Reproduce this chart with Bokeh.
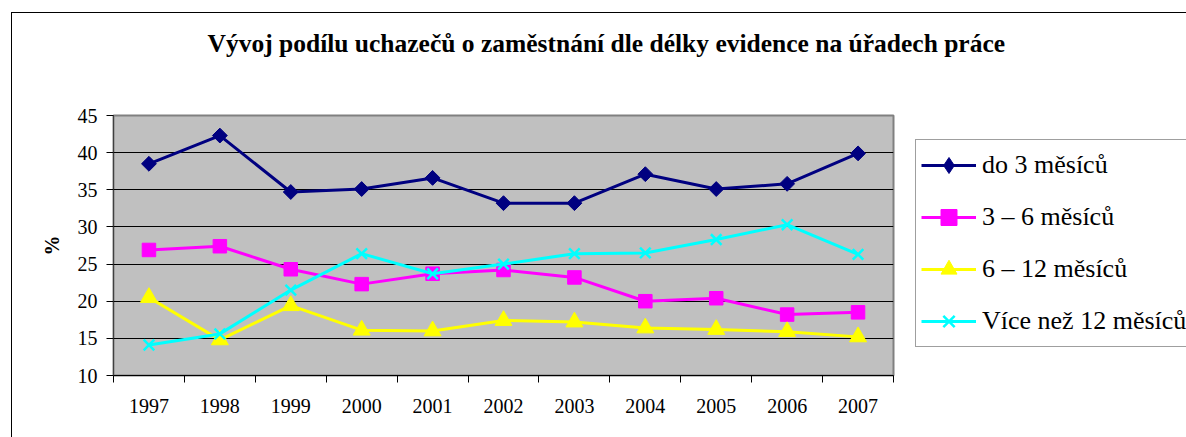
import math
from bokeh.plotting import figure
from bokeh.models import FixedTicker, Legend, LegendItem, Title, Range1d, ColumnDataSource
from bokeh.embed import file_html
from bokeh.resources import INLINE

title_text = "Vývoj podílu uchazečů o zaměstnání dle délky evidence na úřadech práce"
years = ["1997", "1998", "1999", "2000", "2001", "2002", "2003", "2004", "2005", "2006", "2007"]
series_names = ["do 3 měsíců", "3 – 6 měsíců", "6 – 12 měsíců", "Více než 12 měsíců"]
do_3 = [38.5, 42.3, 34.7, 35.1, 36.6, 33.2, 33.2, 37.1, 35.1, 35.8, 39.9]
m3_6 = [26.9, 27.4, 24.3, 22.3, 23.7, 24.2, 23.2, 20.0, 20.4, 18.2, 18.5]
m6_12 = [20.5, 14.8, 19.4, 16.1, 16.0, 17.4, 17.2, 16.4, 16.2, 15.9, 15.2]
over_12 = [14.1, 15.6, 21.5, 26.4, 23.7, 25.0, 26.4, 26.5, 28.3, 30.3, 26.3]
y_ticks = [10, 15, 20, 25, 30, 35, 40, 45]

FONT = "Liberation Serif"
n = len(years)
xs = [i + 0.5 for i in range(n)]

p = figure(width=1174, height=424, frame_width=780, frame_height=260,
           output_backend="svg", toolbar_location=None,
           x_range=Range1d(0, n), y_range=Range1d(y_ticks[0], y_ticks[-1]),
           min_border_left=101, min_border_right=0, min_border_top=102, min_border_bottom=62,
           background_fill_color="#C0C0C0", border_fill_color="white",
           outline_line_color="#808080", outline_line_width=2)
p.styles = {"border-left": "1px solid #000", "border-top": "1px solid #000",
            "margin-left": "11px", "margin-top": "12px"}

# blank spacer between the plot area and the title (added first = closest to the frame)
p.add_layout(Title(text=" ", text_font_size="10px", standoff=45), "above")
p.add_layout(Title(text=title_text, align="left", offset=94, standoff=0,
                   text_font=FONT, text_font_style="bold", text_font_size="25.5px",
                   text_color="black"), "above")

p.xgrid.visible = False
p.ygrid.grid_line_color = "black"
p.ygrid.grid_line_width = 1

xa = p.xaxis[0]
xa.ticker = FixedTicker(ticks=xs, minor_ticks=list(range(n + 1)))
xa.major_label_overrides = {x: y for x, y in zip(xs, years)}
xa.major_tick_out = 0
xa.major_tick_in = 0
xa.minor_tick_out = 7
xa.minor_tick_in = 0
xa.minor_tick_line_color = "black"
xa.axis_line_color = "black"
xa.major_label_standoff = 16
xa.major_label_text_font = FONT
xa.major_label_text_font_size = "20px"
xa.major_label_text_color = "black"

ya = p.yaxis[0]
ya.ticker = FixedTicker(ticks=y_ticks, minor_ticks=[])
ya.major_tick_out = 7
ya.major_tick_in = 0
ya.major_tick_line_color = "black"
ya.axis_line_color = "#404040"
ya.major_label_standoff = 9
ya.major_label_text_font = FONT
ya.major_label_text_font_size = "20px"
ya.major_label_text_color = "black"
ya.axis_label = "%"
ya.axis_label_text_font = FONT
ya.axis_label_text_font_style = "bold"
ya.axis_label_text_font_size = "20px"
ya.axis_label_text_color = "black"
ya.axis_label_standoff = 12

src = ColumnDataSource(dict(x=xs, a=do_3, b=m3_6, c=m6_12, d=over_12))
# (column, colour, plot marker, size, angle)
specs = [
    ("a", "#000080", "square", 10.5, math.pi / 4),
    ("b", "#FF00FF", "square", 13.5, 0.0),
    ("c", "#FFFF00", "triangle", 17, 0.0),
    ("d", "#00FFFF", "x", 15, 0.0),
]
items = []
for (col, color, marker, size, angle), name in zip(specs, series_names):
    lw = 2.5 if marker == "x" else 1
    lr = p.line("x", col, source=src, line_color=color, line_width=3)
    sr = p.scatter("x", col, source=src, marker=marker, size=size, angle=angle,
                   fill_color=color, line_color=color, line_width=lw)
    if angle:
        # legend swatch only: a single empty (NaN) row, nothing drawn in the plot area
        sr = p.scatter(x=[float("nan")], y=[float("nan")], marker="diamond", size=size,
                       fill_color=color, line_color=color, line_width=lw)
    items.append(LegendItem(label=name, renderers=[lr, sr]))

legend = Legend(items=items, location=(22, 28),
                glyph_width=55, glyph_height=40, spacing=12, padding=5, margin=0,
                label_standoff=6, label_text_font=FONT, label_text_font_size="26px",
                label_text_color="black", border_line_color="#404040", border_line_width=1,
                background_fill_color="white", background_fill_alpha=1.0)
p.add_layout(legend, "right")

open("out.html", "w").write(file_html(p, INLINE))
